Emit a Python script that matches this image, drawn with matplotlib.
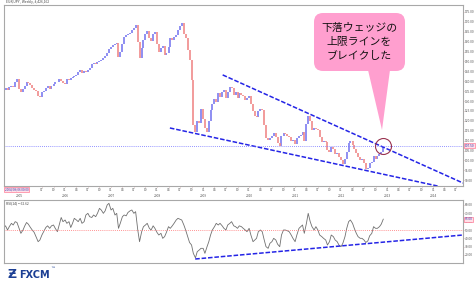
import numpy as np
import pandas as pd
import matplotlib
matplotlib.use("Agg")
import matplotlib.pyplot as plt
from matplotlib.patches import FancyBboxPatch, Polygon

plt.rcParams['font.family'] = ['Noto Sans CJK JP', 'DejaVu Sans']

# EUR/JPY, twice a month (1st / 15th)
price_close = [
    # 2004 Sep-Dec
    135.8, 136.5, 135.5, 137.0, 137.5, 137.0, 139.5, 141.0,
    # 2005
    136.0, 134.5, 136.0, 137.5, 139.5, 139.0, 138.0, 136.5, 135.5, 135.0, 132.5, 132.0,
    134.5, 135.0, 136.5, 137.5, 136.0, 137.5, 138.5, 139.5, 139.5, 141.0, 140.0, 139.0,
    # 2006
    138.5, 141.0, 140.5, 141.5, 142.0, 142.5, 143.0, 144.5, 145.5, 144.0, 145.0, 144.5,
    145.5, 146.5, 148.5, 149.0, 148.5, 149.5, 150.0, 150.5, 151.5, 152.5, 154.5, 156.5,
    # 2007
    157.5, 158.5, 159.0, 159.5, 152.0, 155.0, 159.0, 162.5, 163.5, 164.0, 164.5, 166.0,
    167.0, 168.5, 160.0, 151.5, 157.0, 161.0, 164.0, 165.5, 162.0, 160.5, 164.0, 165.0,
    # 2008
    159.0, 155.0, 157.0, 158.0, 153.0, 154.5, 157.5, 162.0, 161.0, 162.5, 163.5, 166.0,
    168.0, 169.5, 164.0, 162.0, 156.0, 150.5, 140.5, 118.0, 114.5, 120.0, 119.0, 126.0,
    # 2009
    121.0, 116.5, 114.5, 120.0, 125.5, 128.5, 131.0, 129.5, 134.0, 132.0, 134.5, 135.5,
    131.5, 134.5, 137.0, 136.5, 133.0, 134.5, 131.5, 134.0, 133.0, 132.5, 130.5, 131.5,
    # 2010
    132.5, 128.5, 125.0, 122.5, 122.0, 125.0, 126.0, 125.5, 118.0, 111.5, 110.5, 111.5,
    112.5, 114.0, 112.0, 109.0, 107.5, 112.5, 114.0, 113.5, 112.5, 112.0, 110.0, 110.5,
    # 2011
    108.5, 111.5, 112.5, 113.0, 114.5, 110.0, 118.5, 122.5, 120.0, 115.5, 116.5, 116.0,
    115.5, 112.0, 109.5, 110.0, 109.5, 105.5, 104.5, 107.0, 106.0, 103.5, 104.0, 101.5,
    # 2012 Jan-Dec 1
    100.0, 98.0, 100.5, 104.5, 109.0, 110.0, 108.0, 106.0, 104.0, 101.5, 100.0, 100.5,
    98.5, 95.5, 96.0, 98.5, 99.0, 102.5, 100.5, 102.5, 103.5, 104.5, 107.0,
]

rsi_values = [
    53, 55, 50, 54, 58, 56, 60, 59,
    52, 46, 50, 55, 59, 57, 53, 50, 47, 42, 36, 38,
    44, 48, 53, 55, 52, 55, 56, 52, 48, 56, 65, 60,
    62, 58, 60, 53, 58, 64, 62, 60, 64, 58, 60, 68,
    70, 66, 65, 68, 66, 70, 76, 74, 70, 73, 80, 82,
    74, 76, 68, 70, 52, 58, 66, 68, 67, 71, 73, 74,
    70, 72, 50, 36, 48, 54, 56, 58, 52, 50, 55, 52,
    47, 44, 46, 40, 42, 47, 54, 52, 55, 58, 62, 64,
    63, 62, 56, 50, 42, 35, 32, 22, 16.5, 24, 26, 28,
    28, 22, 30, 36, 44, 50, 54, 58, 56, 58, 55, 52,
    50, 56, 58, 60, 55, 54, 52, 55, 54, 52, 50, 48,
    52, 44, 36, 38, 40, 48, 50, 48, 38, 30, 28, 34,
    36, 40, 38, 33, 30, 44, 50, 50, 49, 48, 44, 40,
    36, 44, 52, 54, 56, 46, 58, 70, 60, 54, 50, 54,
    50, 44, 42, 40, 38, 32, 36, 44, 42, 38, 36, 32,
    30, 34, 42, 52, 60, 62, 58, 52, 46, 42, 40, 40,
    38, 35, 37, 43, 46, 54, 52, 52, 54, 57, 63,
]

dates = pd.date_range('2004-09-01', periods=len(price_close), freq='SMS')

# trend lines drawn on the chart
upper_line_dates = pd.to_datetime(['2009-06-05', '2014-08-26'])
upper_line_prices = [143.2, 88.6]
lower_line_dates = pd.to_datetime(['2008-04-12', '2014-02-05'])
lower_line_prices = [116.4, 87.1]
rsi_line_dates = pd.to_datetime(['2008-10-30', '2014-08-26'])
rsi_line_values = [15.2, 44.0]
price_level = 107.5
rsi_mid = 50

price_ticks = [175, 170, 165, 160, 155, 150, 145, 140, 135, 130, 125, 120,
               115, 110, 105, 100, 95, 90]
rsi_ticks = [80, 70, 60, 50, 40, 30, 20]
years = [2005, 2006, 2007, 2008, 2009, 2010, 2011, 2012, 2013, 2014]
callout_lines = ["下落ウェッジの", "上限ラインを", "ブレイクした"]

W, H = 477, 287
fig = plt.figure(figsize=(W / 100, H / 100), dpi=100)
fig.patch.set_facecolor('white')

xlim = (pd.Timestamp('2004-09-03'), pd.Timestamp('2014-08-26'))
frame = '#a8a8a8'

ax = fig.add_axes([4 / W, 1 - 186 / H, 459 / W, 181 / H])
ax2 = fig.add_axes([4 / W, 1 - 263 / H, 459 / W, 63 / H])

# price bars
close = np.array(price_close)
lo = np.minimum(close[1:], close[:-1])
hi = np.maximum(close[1:], close[:-1])
up = close[1:] >= close[:-1]
ax.vlines(dates[1:][up], lo[up], hi[up], color='#7b7bf0', lw=1.2)
ax.vlines(dates[1:][~up], lo[~up], hi[~up], color='#f08a8a', lw=1.2)

ax.plot(upper_line_dates, upper_line_prices, color='#2424e6', lw=1.1, ls=(0, (3, 1.2)))
ax.plot(lower_line_dates, lower_line_prices, color='#2424e6', lw=1.1, ls=(0, (3, 1.2)))
ax.axhline(price_level, color='#7070ff', lw=0.6, ls=(0, (1, 1.5)))
ax.plot([dates[-1]], [price_level], marker='o', ms=11.5, mfc='none', mec='#993350', mew=0.8)

tick_kw = dict(labelsize=2.3, length=1.0, width=0.4, color='#d08080',
               labelcolor='#555555', pad=0.6)
ax.set_xlim(*xlim)
ax.set_ylim(87.1, 178.5)
ax.yaxis.tick_right()
ax.set_yticks(price_ticks)
ax.set_yticklabels([f"{v:.2f}" for v in price_ticks])
ax.tick_params(axis='y', **tick_kw)
qticks = pd.date_range('2005-07-01', '2014-07-01', freq='QS')
ax.set_xticks(qticks)
ax.set_xticklabels([f"{d.month:02d}" for d in qticks])
ax.tick_params(axis='x', **tick_kw)
for y in years:
    ax.text(pd.Timestamp(f'{y}-01-01'), -0.045, str(y), transform=ax.get_xaxis_transform(),
            fontsize=2.3, color='#555555', ha='center', va='top')
ax.text(0.002, -0.01, '2004/09/06 00:00', transform=ax.transAxes, fontsize=2.2,
        color='#3333aa', va='top', ha='left',
        bbox=dict(boxstyle='square,pad=0.2', fc='#ffe0e8', ec='#ff6080', lw=0.4))
ax.text(1.003, (price_level - 87.1) / (178.5 - 87.1), f"{price_level:.2f}",
        transform=ax.transAxes, fontsize=2.3, color='#3333aa', va='center', ha='left',
        bbox=dict(boxstyle='square,pad=0.2', fc='#ffe0e8', ec='#ff6080', lw=0.4))
ax.text(0.004, 1.005, 'EUR/JPY , Weekly, #,426,162', transform=ax.transAxes,
        fontsize=2.4, color='#444444', va='bottom', ha='left')

# RSI
ax2.plot(dates, rsi_values, color='#707070', lw=0.6)
ax2.axhline(rsi_mid, color='#ff7070', lw=0.6, ls=(0, (1, 1.5)))
ax2.plot(rsi_line_dates, rsi_line_values, color='#2424e6', lw=1.1, ls=(0, (3, 1.2)))
ax2.set_xlim(*xlim)
ax2.set_ylim(10.4, 86)
ax2.set_xticks([])
ax2.yaxis.tick_right()
ax2.set_yticks(rsi_ticks)
ax2.set_yticklabels([f"{v:.2f}" for v in rsi_ticks])
ax2.tick_params(axis='y', **tick_kw)
ax2.text(1.003, (rsi_values[-1] - 10.4) / (86 - 10.4), f"{rsi_values[-1]:.2f}",
         transform=ax2.transAxes, fontsize=2.3, color='#3333aa', va='center', ha='left',
         bbox=dict(boxstyle='square,pad=0.2', fc='#ffe0e8', ec='#ff6080', lw=0.4))
ax2.text(0.004, 0.985, 'RSI(14) = 62.62', transform=ax2.transAxes, fontsize=2.4,
         color='#444444', va='top', ha='left')

for a in (ax, ax2):
    for s in a.spines.values():
        s.set_color(frame)
        s.set_linewidth(0.8)

# overlay in pixel coordinates for the callout and logo
ov = fig.add_axes([0, 0, 1, 1], zorder=10)
ov.set_xlim(0, W)
ov.set_ylim(H, 0)
ov.axis('off')
pink = '#ff9fcf'
ov.add_patch(FancyBboxPatch((314, 13), 91, 58, boxstyle='round,pad=0,rounding_size=9',
                            fc=pink, ec='none'))
ov.add_patch(Polygon([(368, 70), (390, 70), (382, 130)], closed=True, fc=pink, ec='none'))
ov.text(359.5, 42, "\n".join(callout_lines), fontsize=7.8, ha='center', va='center',
        linespacing=1.5, color='#111111')
ov.text(8, 275, 'Ƶ', fontsize=9, fontweight='bold', color='#1c3f94', va='center', ha='left')
ov.text(19, 275, 'FXCM', fontsize=7, fontweight='bold', color='#1c3f94', va='center',
        ha='left', family='DejaVu Sans')
ov.text(50, 269, '™', fontsize=3.5, color='#1c3f94', va='center', ha='left',
        family='DejaVu Sans')

fig.savefig('out.png', dpi=100)
